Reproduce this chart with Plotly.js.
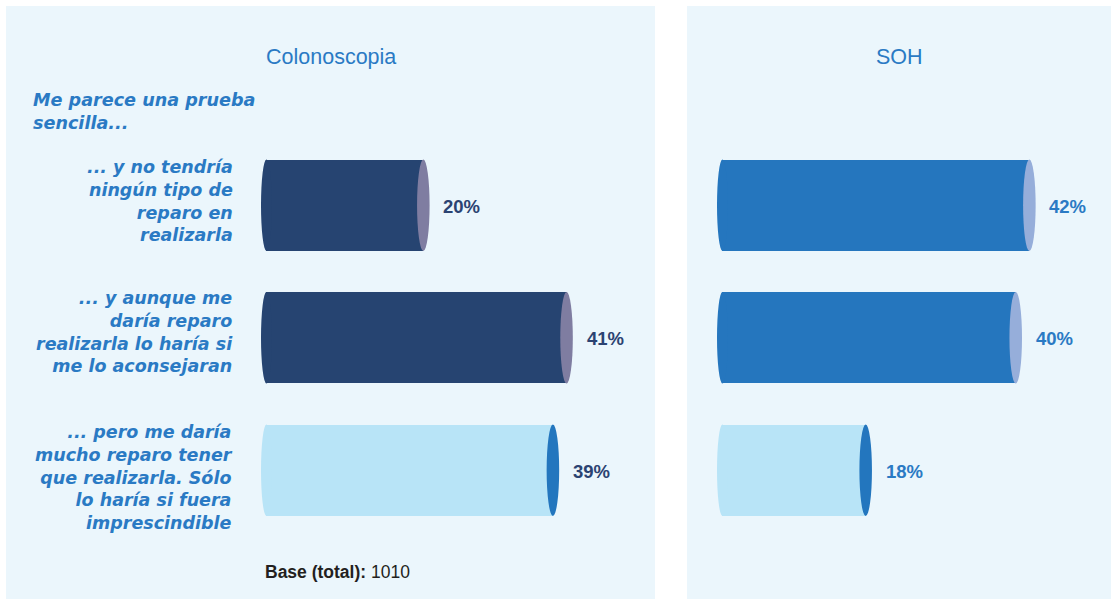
<!DOCTYPE html>
<html>
<head>
<meta charset="utf-8">
<script src="https://cdn.plot.ly/plotly-3.0.1.min.js"></script>
<style>html,body{margin:0;padding:0;background:#fff;}#chart{width:1115px;height:599px;}</style>
</head>
<body>
<div id="chart"></div>
<script>
// ---- data ----
const panelTitles = ["Colonoscopia", "SOH"];
const introText = "Me parece una prueba<br>sencilla...";
const categories = [
  "... y no tendría<br>ningún tipo de<br>reparo en<br>realizarla",
  "... y aunque me<br>daría reparo<br>realizarla lo haría si<br>me lo aconsejaran",
  "... pero me daría<br>mucho reparo tener<br>que realizarla. Sólo<br>lo haría si fuera<br>imprescindible"
];
const colonoscopiaValues = [20, 41, 39];
const sohValues = [42, 40, 18];
const baseLabel = "<b>Base (total):</b> 1010";

// ---- styles ----
const W = 1115, H = 599;
const BASE = -3.8, LCAP = 0.8, RCAP = 0.92, BARW = 0.69;
const RANGE = [BASE, BASE + 55.57];
const panelBg = "#EBF6FC";
const blueText = "#2A7AC4";
const navyText = "#2B4372";
const barColors = {
  left: ["#264471", "#264471", "#B8E4F7"],
  right: ["#2576BE", "#2576BE", "#B8E4F7"]
};
const capColors = {
  left: ["#7F7DA1", "#7F7DA1", "#2376BE"],
  right: ["#96AEDA", "#96AEDA", "#2376BE"]
};
const labelColors = { left: navyText, right: blueText };
const catYShift = [4, 6, -7];
const yIdx = categories.map((c, i) => i);

function px(x) { return x / W; }
function py(y) { return 1 - y / H; }

function barTrace(vals, side, xa, ya) {
  return {
    type: "bar", orientation: "h",
    y: yIdx, x: vals.map(v => v - (BASE + LCAP)), base: BASE + LCAP,
    width: BARW,
    marker: { color: barColors[side], line: { width: 0 } },
    xaxis: xa, yaxis: ya, hoverinfo: "skip", showlegend: false
  };
}

const shapes = [
  { type: "rect", xref: "paper", yref: "paper", x0: px(6), x1: px(655), y0: py(599), y1: py(6), fillcolor: panelBg, line: { width: 0 }, layer: "below" },
  { type: "rect", xref: "paper", yref: "paper", x0: px(687), x1: px(1111), y0: py(599), y1: py(6), fillcolor: panelBg, line: { width: 0 }, layer: "below" }
];
const annotations = [];

function addCaps(vals, side, xr, yr) {
  vals.forEach((v, i) => {
    shapes.push({ type: "circle", xref: xr, yref: yr, x0: BASE, x1: BASE + 2 * LCAP, y0: i - BARW / 2, y1: i + BARW / 2, fillcolor: barColors[side][i], line: { width: 0 }, layer: "above" });
    shapes.push({ type: "circle", xref: xr, yref: yr, x0: v - RCAP, x1: v + RCAP, y0: i - BARW / 2, y1: i + BARW / 2, fillcolor: capColors[side][i], line: { width: 0 }, layer: "above" });
    annotations.push({ xref: xr, yref: yr, x: v, y: i, xanchor: "left", yanchor: "middle", xshift: 18, yshift: -1, showarrow: false, text: "<b>" + v + "%</b>", font: { family: "Liberation Sans, Arial, sans-serif", size: 18.5, color: labelColors[side] } });
  });
}
addCaps(colonoscopiaValues, "left", "x", "y");
addCaps(sohValues, "right", "x2", "y2");

categories.forEach((c, i) => {
  annotations.push({ xref: "paper", yref: "y", x: px(235), y: i, xanchor: "right", yanchor: "middle", align: "right", yshift: catYShift[i], showarrow: false, text: "<b><i>" + c + "</i></b>", font: { family: "DejaVu Sans, sans-serif", size: 17.5, color: blueText } });
});

annotations.push({ xref: "paper", yref: "paper", x: px(330.5), y: py(57), xanchor: "center", yanchor: "middle", showarrow: false, text: panelTitles[0], font: { family: "Liberation Sans, Arial, sans-serif", size: 21.5, color: blueText } });
annotations.push({ xref: "paper", yref: "paper", x: px(899), y: py(57), xanchor: "center", yanchor: "middle", showarrow: false, text: panelTitles[1], font: { family: "Liberation Sans, Arial, sans-serif", size: 21.5, color: blueText } });
annotations.push({ xref: "paper", yref: "paper", x: px(31), y: py(111.5), xanchor: "left", yanchor: "middle", align: "left", showarrow: false, text: "<b><i>" + introText + "</i></b>", font: { family: "DejaVu Sans, sans-serif", size: 17.6, color: blueText } });
annotations.push({ xref: "paper", yref: "paper", x: px(263), y: py(572), xanchor: "left", yanchor: "middle", showarrow: false, text: baseLabel, font: { family: "Liberation Sans, Arial, sans-serif", size: 17.5, color: "#231F20" } });

const axisX = { range: RANGE, showgrid: false, zeroline: false, showticklabels: false, showline: false, ticks: "", fixedrange: true };
const axisY = { range: [2.5, -0.5], showgrid: false, zeroline: false, showticklabels: false, showline: false, ticks: "", fixedrange: true, domain: [py(536.5), py(139)] };

const layout = {
  width: W, height: H,
  margin: { l: 0, r: 0, t: 0, b: 0 },
  paper_bgcolor: "#FFFFFF", plot_bgcolor: "rgba(0,0,0,0)",
  showlegend: false, bargap: 0,
  xaxis: Object.assign({}, axisX, { domain: [px(261), px(640)], anchor: "y" }),
  yaxis: Object.assign({}, axisY, { anchor: "x" }),
  xaxis2: Object.assign({}, axisX, { domain: [px(717), px(1096)], anchor: "y2" }),
  yaxis2: Object.assign({}, axisY, { anchor: "x2" }),
  shapes: shapes,
  annotations: annotations
};

Plotly.newPlot("chart", [
  barTrace(colonoscopiaValues, "left", "x", "y"),
  barTrace(sohValues, "right", "x2", "y2")
], layout, { displayModeBar: false, staticPlot: true });
</script>
</body>
</html>
